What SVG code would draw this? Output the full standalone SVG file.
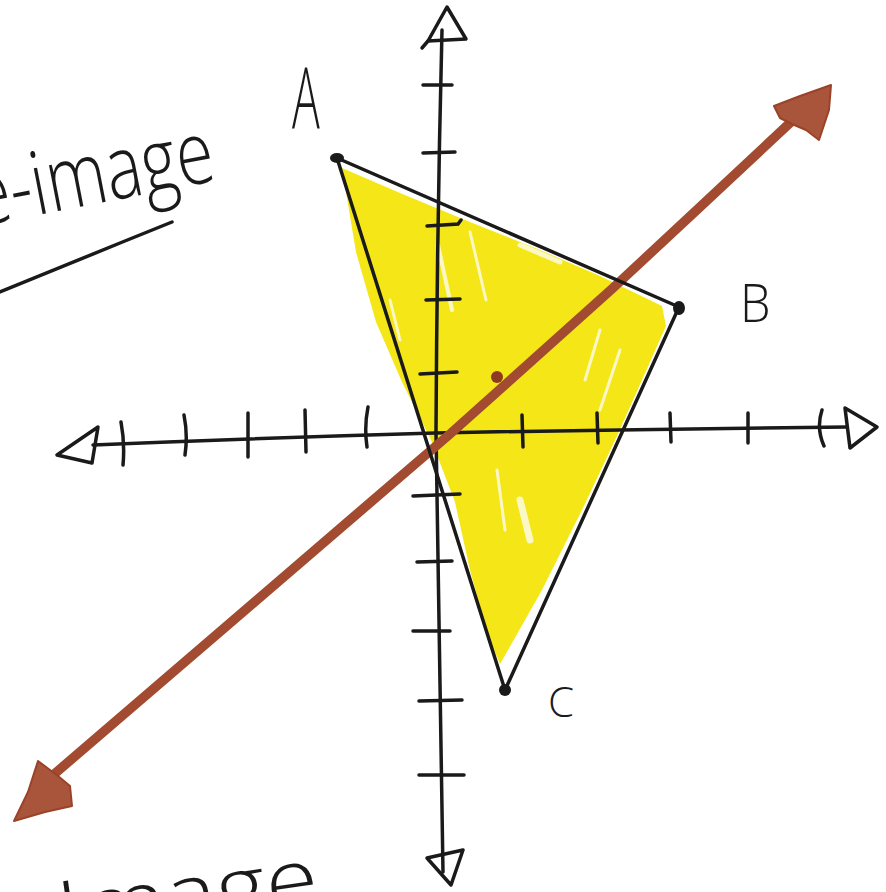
<svg xmlns="http://www.w3.org/2000/svg" width="886" height="892" viewBox="0 0 886 892">
<style>
.ink{fill:none;stroke:#1a1a1a;stroke-width:3.5;stroke-linecap:round;stroke-linejoin:round}
.tick{fill:none;stroke:#1a1a1a;stroke-width:3.5;stroke-linecap:round}
.hand{font-family:"Open Sans","Lato","Liberation Sans",sans-serif;font-weight:300;fill:#1a1a1a}
.brown{fill:none;stroke:#a24b30;stroke-width:9.5;stroke-linecap:round;stroke-linejoin:round}
.brownhead{fill:#a9553c;stroke:#9a4329;stroke-width:2;stroke-linejoin:round}
.vtx{fill:#1a1a1a}
</style>
<rect width="886" height="892" fill="#ffffff"/>

<g id="preimage-label">
  <text class="hand" font-size="88" transform="translate(218,180) rotate(-11)" text-anchor="end" textLength="244" lengthAdjust="spacingAndGlyphs">e-image</text>
  <path class="ink" d="M0,292 L120,243 L172,222"/>
</g>

<g id="image-label">
  <text class="hand" font-size="84" transform="translate(62,942) rotate(-8)" textLength="262" lengthAdjust="spacingAndGlyphs">Image</text>
</g>

<g id="fill-shading">
  <path fill="#f5e617" d="M342,168 L400,193 L470,222 L540,250 L600,276 L662,306 L666,326 L642,380 L617,436 L582,510 L542,590 L500,664 L488,636 L470,570 L455,502 L432,442 L402,382 L376,322 L356,252 Z"/>
  <g stroke="#ffffff" stroke-linecap="round" fill="none" opacity="0.75">
    <path d="M438,245 L452,310" stroke-width="4"/>
    <path d="M470,232 L486,300" stroke-width="3"/>
    <path d="M520,245 L560,262" stroke-width="5"/>
    <path d="M600,330 L585,380" stroke-width="3"/>
    <path d="M520,500 L530,540" stroke-width="7"/>
    <path d="M497,470 L505,530" stroke-width="3"/>
    <path d="M620,350 L600,410" stroke-width="3"/>
    <path d="M390,300 L400,340" stroke-width="3"/>
    <path d="M470,600 L480,640" stroke-width="3"/>
  </g>
</g>

<g id="connectors">
  <g id="y-axis">
    <path class="ink" d="M442,30 Q437,230 436,432 Q439,650 443,872"/>
    <path class="ink" d="M447,7 L466,39 L428,41 Z"/>
    <path class="ink" d="M428,41 L422,48"/>
    <path class="ink" d="M427,858 L463,850 L451,885 Z"/>
    <path class="tick" d="M423,85 L452,85 M423,153 L455,152 M427,226 L458,224 L461,220 M426,300 L460,299 M420,374 L457,372 M413,496 L460,494 M417,562 L452,561 M413,631 L450,631 M419,701 L462,700 M419,775 L464,775"/>
  </g>
  <g id="x-axis">
    <path class="ink" d="M93,445 Q260,438 435,433 Q640,429 847,427"/>
    <path class="ink" d="M98,427 L57,455 L92,463 Z"/>
    <path class="ink" d="M845,408 L877,427 L850,448 Z"/>
    <path class="tick" d="M121,422 Q125,443 123,465 M184,415 Q188,435 185,455 M248,413 L248,457 M305,410 L306,452 M368,407 Q364,427 367,447 M522,415 L523,447 M597,413 L598,443 M670,413 L671,442 M748,413 L748,443 M822,410 Q816,428 824,446"/>
  </g>
  <g id="reflection-line">
    <path class="brown" d="M52,776 L450,434 L613,288 L700,207 L792,121"/>
    <path class="brownhead" d="M38,761 L58,776 L70,786 L72,806 L45,812 L14,821 L28,792 Z"/>
    <path class="brownhead" d="M774,106 L800,96 L831,85 L829,110 L819,140 L806,130 L792,124 L780,118 Z"/>
    <circle cx="497" cy="377" r="6" fill="#8e3a22"/>
  </g>
</g>

<g id="triangle">
  <path class="ink" d="M337,158 L679,307 L505,690 Z"/>
  <ellipse class="vtx" cx="337" cy="158" rx="7" ry="5"/>
  <ellipse class="vtx" cx="679" cy="308" rx="6" ry="7"/>
  <ellipse class="vtx" cx="505" cy="690" rx="6" ry="6"/>
</g>

<g id="label-A">
  <text class="hand" font-size="84" transform="translate(292,128) scale(0.55,1)">A</text>
</g>
<g id="label-B">
  <text class="hand" font-size="54" transform="translate(740,322) scale(0.9,1)">B</text>
</g>
<g id="label-C">
  <text class="hand" font-size="42" transform="translate(548,717)">C</text>
</g>
</svg>
